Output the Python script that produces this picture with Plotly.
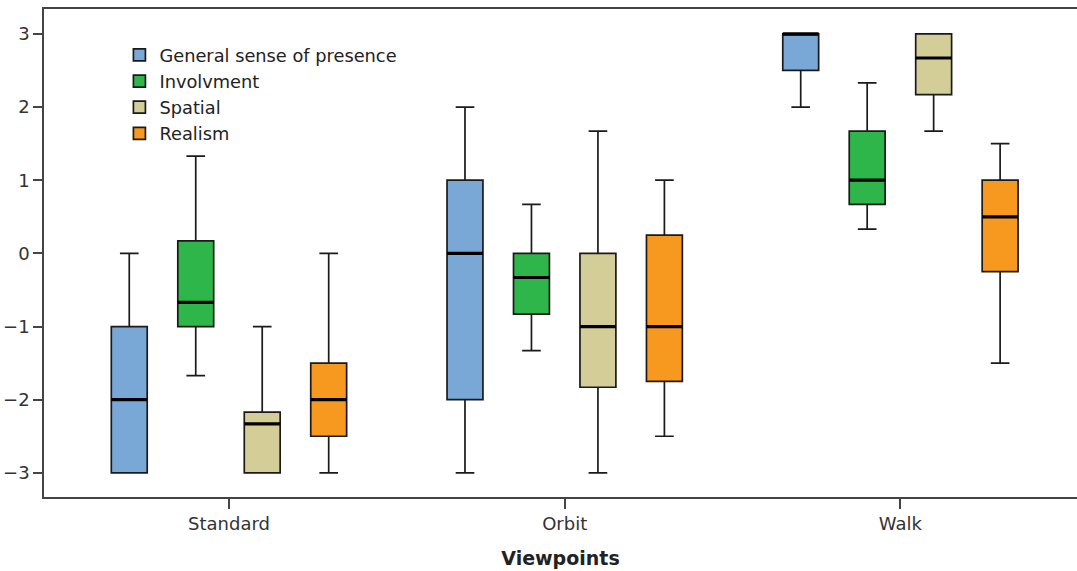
import plotly.graph_objects as go

categories = ["Standard", "Orbit", "Walk"]
series_names = ["General sense of presence", "Involvment", "Spatial", "Realism"]
series_colors = ["#7aa8d6", "#2fb64a", "#d3ce98", "#f7991f"]

gsp_lower = [-3, -3, 2]
gsp_q1 = [-3, -2, 2.5]
gsp_median = [-2, 0, 3]
gsp_q3 = [-1, 1, 3]
gsp_upper = [0, 2, 3]

inv_lower = [-1.67, -1.33, 0.33]
inv_q1 = [-1, -0.83, 0.67]
inv_median = [-0.67, -0.33, 1]
inv_q3 = [0.17, 0, 1.67]
inv_upper = [1.33, 0.67, 2.33]

spa_lower = [-3, -3, 1.67]
spa_q1 = [-3, -1.83, 2.17]
spa_median = [-2.33, -1, 2.67]
spa_q3 = [-2.17, 0, 3]
spa_upper = [-1, 1.67, 3]

rea_lower = [-3, -2.5, -1.5]
rea_q1 = [-2.5, -1.75, -0.25]
rea_median = [-2, -1, 0.5]
rea_q3 = [-1.5, 0.25, 1]
rea_upper = [0, 1, 1.5]

stats = [
    (gsp_lower, gsp_q1, gsp_median, gsp_q3, gsp_upper),
    (inv_lower, inv_q1, inv_median, inv_q3, inv_upper),
    (spa_lower, spa_q1, spa_median, spa_q3, spa_upper),
    (rea_lower, rea_q1, rea_median, rea_q3, rea_upper),
]

fig = go.Figure()
for i, (name, color, (lo, q1, med, q3, up)) in enumerate(zip(series_names, series_colors, stats)):
    fig.add_trace(go.Box(
        name=name, x=categories, q1=q1, median=med, q3=q3,
        lowerfence=lo, upperfence=up,
        fillcolor=color, line=dict(color="#1a1a1a", width=1.7),
        whiskerwidth=0.52, offsetgroup=str(i), boxpoints=False,
    ))
# thick median lines overlay
for i, (lo, q1, med, q3, up) in enumerate(stats):
    fig.add_trace(go.Box(
        name=series_names[i] + " median", x=categories, q1=med, median=med, q3=med,
        lowerfence=med, upperfence=med,
        fillcolor="rgba(0,0,0,0)", line=dict(color="#000000", width=3.2),
        whiskerwidth=0, offsetgroup=str(i), boxpoints=False,
        showlegend=False, hoverinfo="skip",
    ))

font_family = "DejaVu Sans"
fig.update_layout(
    width=1077, height=571,
    margin=dict(l=44, r=0, t=9, b=74),
    paper_bgcolor="white", plot_bgcolor="white",
    boxmode="group", boxgap=0.208, boxgroupgap=0.46,
    font=dict(family=font_family, size=18, color="#333333"),
    showlegend=True,
    legend=dict(
        x=0.073, y=0.943, xanchor="left", yanchor="top",
        bgcolor="rgba(0,0,0,0)", font=dict(size=17.8, color="#222222"),
        itemwidth=30, tracegroupgap=0,
    ),
    xaxis=dict(
        type="category", range=[-0.551, 2.526],
        showline=True, linecolor="#444444", linewidth=1.5, mirror=True,
        ticks="outside", ticklen=10, tickcolor="#444444", tickwidth=1.5,
        showgrid=False, zeroline=False,
        tickfont=dict(size=18, color="#333333"),
        title=dict(text="<b>Viewpoints</b>", font=dict(size=19, color="#222222"), standoff=18),
    ),
    yaxis=dict(
        range=[-3.33, 3.34], tickvals=[-3, -2, -1, 0, 1, 2, 3],
        showline=True, linecolor="#444444", linewidth=1.5,
        ticks="outside", ticklen=9, tickcolor="#444444", tickwidth=1.5,
        showgrid=False, zeroline=False,
        tickfont=dict(size=18, color="#333333"),
    ),
)

fig.write_html("out.html", config={"displayModeBar": False},
               post_script="document.body.style.margin='0';")
